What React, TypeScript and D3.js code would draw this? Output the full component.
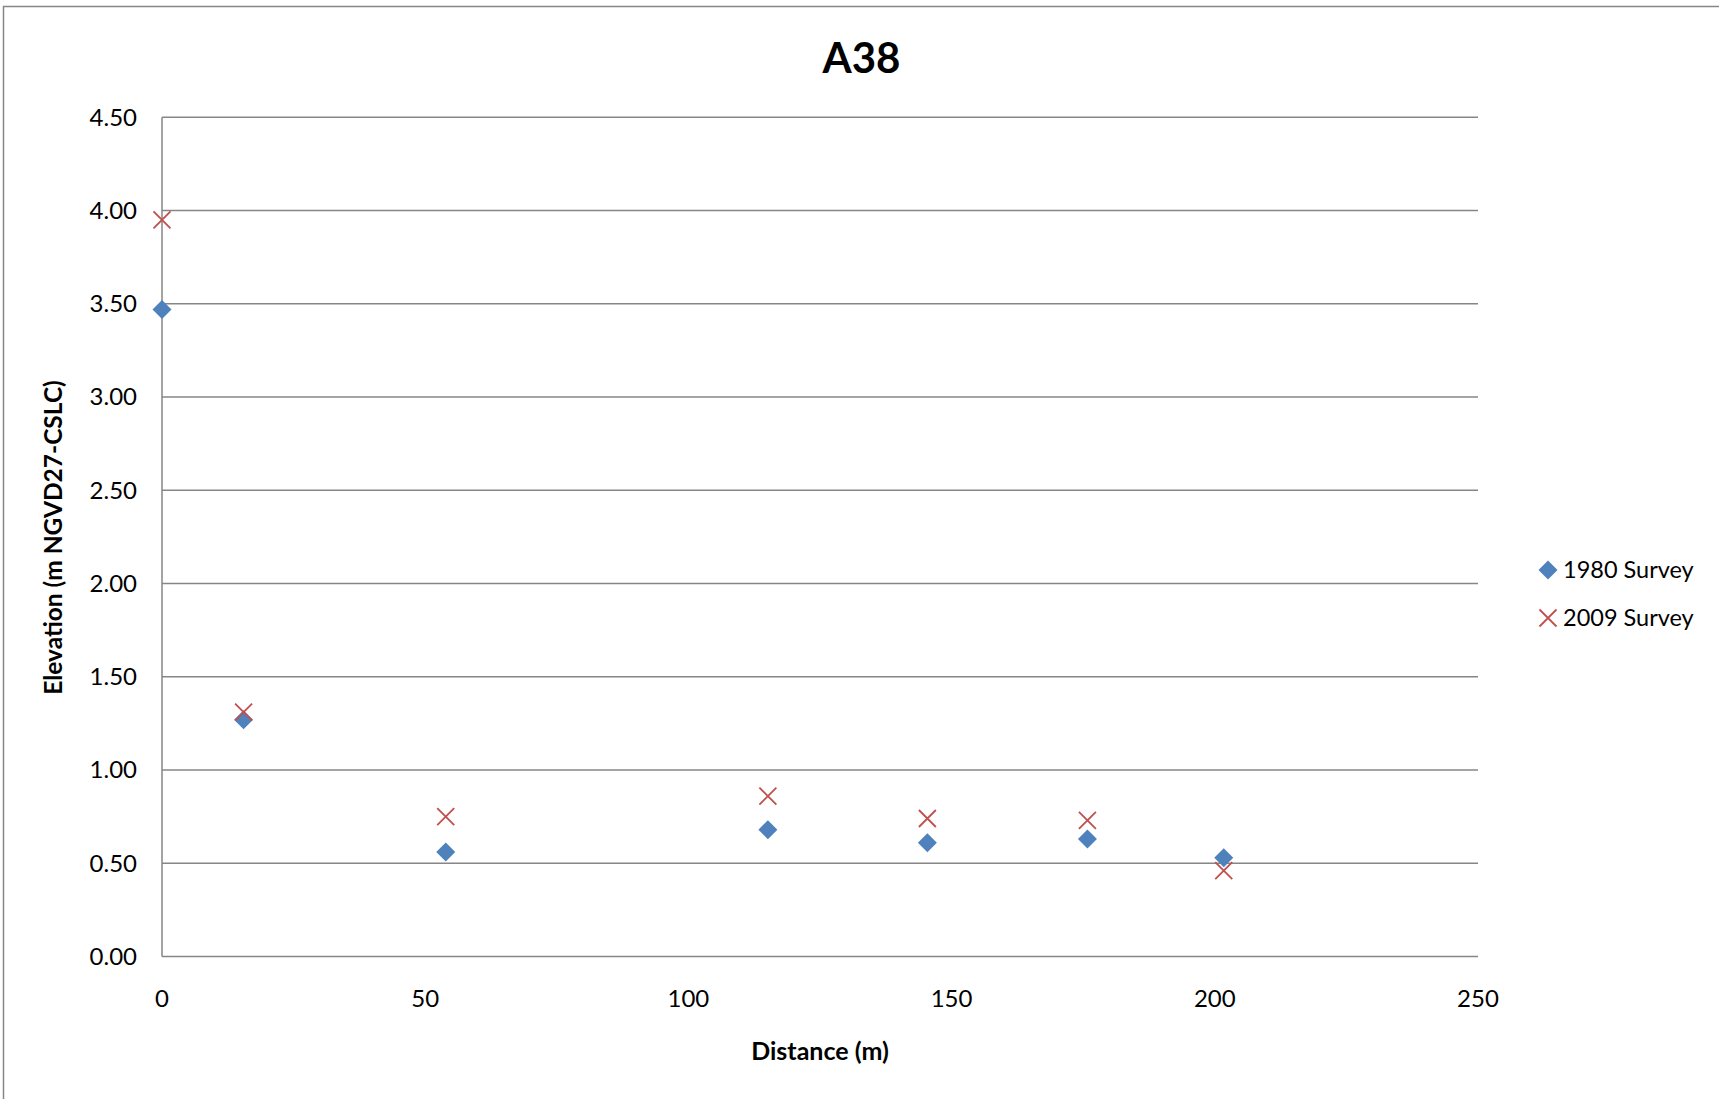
import React, { useEffect } from "react";
import * as d3 from "d3";

const title = "A38";
const xAxisTitle = "Distance (m)";
const yAxisTitle = "Elevation (m NGVD27-CSLC)";

const seriesNames = ["1980 Survey", "2009 Survey"];
const distance1980 = [0, 15.5, 53.9, 115.1, 145.4, 175.8, 201.7];
const elevation1980 = [3.47, 1.27, 0.56, 0.68, 0.61, 0.63, 0.53];
const distance2009 = [0, 15.5, 53.9, 115.1, 145.4, 175.8, 201.7];
const elevation2009 = [3.95, 1.31, 0.75, 0.86, 0.74, 0.73, 0.46];

const xTicks = [0, 50, 100, 150, 200, 250];
const yTicks = [0, 0.5, 1, 1.5, 2, 2.5, 3, 3.5, 4, 4.5];

const W = 1719;
const H = 1099;
const FONT = "Lato, 'Open Sans', sans-serif";
const GRID = "#868686";
const BLUE = "#4F81BD";
const RED = "#C0504D";

export default function App() {
  useEffect(() => {
    document.body.style.margin = "0";
  }, []);

  const x = d3.scaleLinear().domain([0, 250]).range([162, 1478]);
  const y = d3.scaleLinear().domain([0, 4.5]).range([956.5, 117.3]);
  const fmt = d3.format(".2f");

  const pts1980 = distance1980.map((d, i) => ({ x: d, y: elevation1980[i] }));
  const pts2009 = distance2009.map((d, i) => ({ x: d, y: elevation2009[i] }));

  const dr = 9.5;
  const diamond = (cx: number, cy: number) =>
    `M${cx},${cy - dr}L${cx + dr},${cy}L${cx},${cy + dr}L${cx - dr},${cy}Z`;
  const xr = 8.5;
  const cross = (cx: number, cy: number) =>
    `M${cx - xr},${cy - xr}L${cx + xr},${cy + xr}M${cx - xr},${cy + xr}L${cx + xr},${cy - xr}`;

  return (
    <svg width={W} height={H} style={{ display: "block", background: "#fff" }} fontFamily={FONT}>
      <rect x={0} y={0} width={W} height={H} fill="#fff" />
      {/* chart border */}
      <rect x={3.5} y={6.5} width={W + 50} height={H + 50} fill="none" stroke={GRID} strokeWidth={1.5} />

      <text x={861.5} y={72.5} textAnchor="middle" fontSize={42} fontWeight="bold" fill="#000">
        {title}
      </text>

      {/* gridlines */}
      {yTicks.map((t) => (
        <line key={"g" + t} x1={x(0)} x2={x(250)} y1={y(t)} y2={y(t)} stroke={GRID} strokeWidth={1.5} />
      ))}
      {/* y axis line */}
      <line x1={x(0)} x2={x(0)} y1={y(4.5)} y2={y(0)} stroke={GRID} strokeWidth={1.5} />

      {/* y tick labels */}
      {yTicks.map((t) => (
        <text key={"yl" + t} x={137} y={y(t)} dy="0.35em" textAnchor="end" fontSize={24} fill="#000">
          {fmt(t)}
        </text>
      ))}
      {/* x tick labels */}
      {xTicks.map((t) => (
        <text key={"xl" + t} x={x(t)} y={1006.5} textAnchor="middle" fontSize={24} fill="#000">
          {t}
        </text>
      ))}

      <text x={820} y={1060} textAnchor="middle" fontSize={25} fontWeight="bold" fill="#000">
        {xAxisTitle}
      </text>
      <text
        transform={`translate(62,537.5) rotate(-90)`}
        textAnchor="middle"
        fontSize={24.5}
        fontWeight="bold"
        fill="#000"
      >
        {yAxisTitle}
      </text>

      {/* series */}
      {pts1980.map((p, i) => (
        <path key={"a" + i} d={diamond(x(p.x), y(p.y))} fill={BLUE} />
      ))}
      {pts2009.map((p, i) => (
        <path key={"b" + i} d={cross(x(p.x), y(p.y))} stroke={RED} strokeWidth={1.8} fill="none" />
      ))}

      {/* legend */}
      <path d={diamond(1548, 570)} fill={BLUE} />
      <text x={1563} y={570} dy="0.35em" fontSize={23.5} fill="#000">
        {seriesNames[0]}
      </text>
      <path d={cross(1548, 618)} stroke={RED} strokeWidth={1.8} fill="none" />
      <text x={1563} y={618} dy="0.35em" fontSize={23.5} fill="#000">
        {seriesNames[1]}
      </text>
    </svg>
  );
}
